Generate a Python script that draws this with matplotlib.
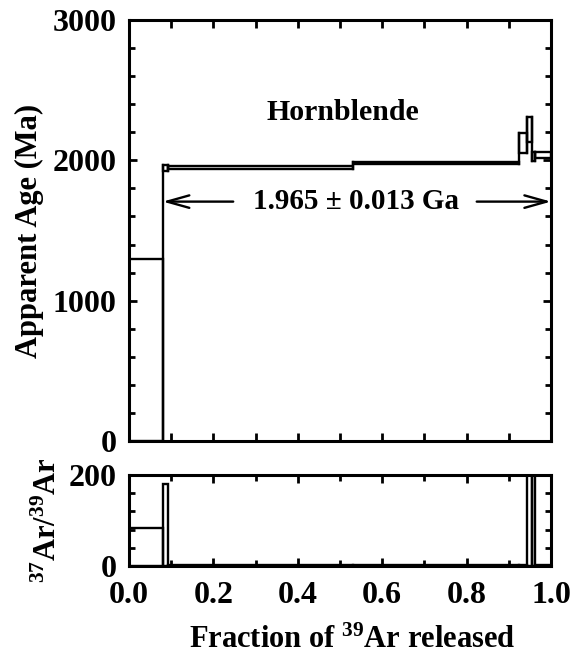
"""Ar-Ar step-heating age spectrum with Ca/K (37Ar/39Ar) panel for hornblende."""

import matplotlib
matplotlib.use("Agg")
import matplotlib.pyplot as plt
from matplotlib.patches import Rectangle
from matplotlib.ticker import MultipleLocator

plt.rcParams["font.family"] = ["Liberation Serif", "DejaVu Serif"]
plt.rcParams["font.weight"] = "bold"
plt.rcParams["axes.labelweight"] = "bold"
plt.rcParams["mathtext.fontset"] = "custom"
plt.rcParams["mathtext.rm"] = "Liberation Serif:bold"
plt.rcParams["mathtext.default"] = "rm"

# cumulative 39Ar fraction at the edges of each heating step
step_left = [0.000, 0.080, 0.092, 0.532, 0.923, 0.943, 0.956, 0.961]
step_right = [0.080, 0.092, 0.532, 0.923, 0.943, 0.956, 0.961, 1.000]
# apparent age envelope (Ma) for each step
age_lo = [0, 1922, 1935, 1972, 2051, 2133, 1994, 2015]
age_hi = [1300, 1966, 1962, 1988, 2193, 2312, 2062, 2062]
# 37Ar/39Ar for each step
ca_k = [84, 180, 3, 3, 3, 350, 350, 3]

plateau_start = 0.080
plateau_end = 1.000
plateau_label = "1.965 \u00b1 0.013 Ga"
mineral = "Hornblende"

LW = 1.7
FS = 22

fig = plt.figure(figsize=(5.73, 6.59), dpi=100)
ax = fig.add_axes([0.2251, 0.3308, 0.7365, 0.6388])
ax2 = fig.add_axes([0.2251, 0.1411, 0.7365, 0.1381])

# age spectrum boxes
for i in range(len(step_left)):
    ax.add_patch(Rectangle((step_left[i], age_lo[i]),
                           step_right[i] - step_left[i], age_hi[i] - age_lo[i],
                           fill=False, edgecolor="black", linewidth=LW))
# staircase connectors between neighbouring steps
for i in range(len(step_left) - 1):
    lo = min(age_lo[i], age_lo[i + 1])
    hi = max(age_hi[i], age_hi[i + 1])
    ax.plot([step_right[i], step_right[i]], [lo, hi], color="black", linewidth=LW)

ax.text(0.506, 2340, mineral, ha="center", va="center", fontsize=21.5)

# plateau arrows
ax.text(0.539, 1706, plateau_label, ha="center", va="center", fontsize=21)
arrow = dict(arrowstyle="->,head_length=1.6,head_width=0.45", color="black", lw=1.7,
             shrinkA=0, shrinkB=0)
ax.annotate("", xy=(plateau_start, 1706), xytext=(0.247, 1706), arrowprops=arrow)
ax.annotate("", xy=(plateau_end, 1706), xytext=(0.824, 1706), arrowprops=arrow)

ax.set_xlim(0, 1)
ax.set_ylim(0, 3000)
ax.xaxis.set_major_locator(MultipleLocator(0.1))
ax.yaxis.set_major_locator(MultipleLocator(1000))
ax.yaxis.set_minor_locator(MultipleLocator(200))
ax.set_xticklabels([])
ax.set_ylabel("Apparent Age (Ma)", fontsize=FS, labelpad=6)

# 37Ar/39Ar boxes
for i in range(len(step_left)):
    ax2.add_patch(Rectangle((step_left[i], 0), step_right[i] - step_left[i], ca_k[i],
                            fill=False, edgecolor="black", linewidth=LW))
ax2.set_xlim(0, 1)
ax2.set_ylim(0, 200)
ax2.xaxis.set_major_locator(MultipleLocator(0.2))
ax2.xaxis.set_minor_locator(MultipleLocator(0.1))
ax2.yaxis.set_major_locator(MultipleLocator(200))
ax2.yaxis.set_minor_locator(MultipleLocator(40))
ax2.xaxis.set_major_formatter(plt.FormatStrFormatter("%.1f"))
ax2.set_ylabel("$^{37}$Ar/$^{39}$Ar", fontsize=FS, labelpad=4)
ax2.set_xlabel("Fraction of $^{39}$Ar released", fontsize=FS)
ax2.xaxis.set_label_coords(0.53, -0.66)

for a in (ax, ax2):
    for s in a.spines.values():
        s.set_linewidth(2.2)
    a.tick_params(which="both", direction="in", top=True, right=True,
                  width=2, labelsize=23)
    a.tick_params(which="major", length=6)
    a.tick_params(which="minor", length=4)
ax.tick_params(axis="y", pad=9)
ax2.tick_params(axis="y", pad=9)
ax2.tick_params(axis="x", pad=11)

fig.savefig("out.png", dpi=100)
